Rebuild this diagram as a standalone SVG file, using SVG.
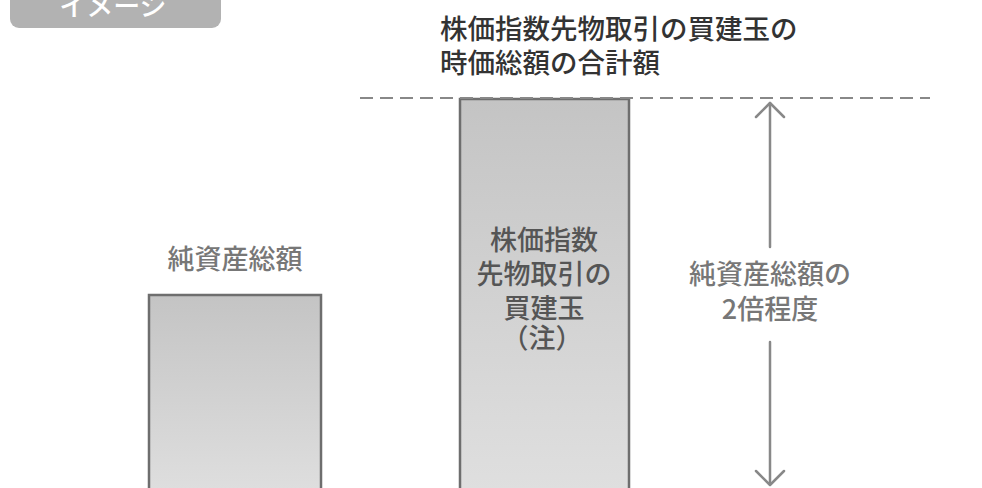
<svg xmlns="http://www.w3.org/2000/svg" width="982" height="488" viewBox="0 0 982 488">
<style>
text{font-family:"Noto Sans CJK JP","Noto Sans CJK SC",sans-serif;font-weight:500;}
.title{font-size:27.5px;fill:#333;}
.lbl{font-size:27px;fill:#777;text-anchor:middle;}
.bartxt{font-size:27px;fill:#555;text-anchor:middle;}
.bar{stroke:#6e6e6e;stroke-width:2.5;fill:url(#g);}
.arr{stroke:#888;stroke-width:2.5;fill:none;stroke-linecap:round;stroke-linejoin:round;}
</style>
<defs>
<linearGradient id="g" x1="0" y1="0" x2="0" y2="1">
<stop offset="0" stop-color="#c4c4c4"/>
<stop offset="1" stop-color="#e0e0e0"/>
</linearGradient>
</defs>
<rect width="982" height="488" fill="#fff"/>
<g id="badge">
<rect x="10" y="-20" width="211" height="48" rx="9" fill="#b2b2b2"/>
<text x="113" y="16" font-size="27" fill="#fff" text-anchor="middle">イメージ</text>
</g>
<g id="top-label">
<text class="title" x="440" y="39">株価指数先物取引の買建玉の</text>
<text class="title" x="440" y="73">時価総額の合計額</text>
</g>
<g id="net-assets">
<text class="lbl" x="235" y="269">純資産総額</text>
<rect class="bar" x="149" y="295" width="172" height="210"/>
</g>
<g id="futures">
<rect class="bar" x="460" y="99" width="169" height="406"/>
<text class="bartxt" x="544" y="250">株価指数</text>
<text class="bartxt" x="544" y="284">先物取引の</text>
<text class="bartxt" x="544" y="318">買建玉</text>
<text class="bartxt" x="542" y="348" font-size="19">（注）</text>
</g>
<g id="ratio-label">
<text class="lbl" x="770" y="284">純資産総額の</text>
<text class="lbl" x="770" y="319">2倍程度</text>
</g>
<g id="connectors">
<line x1="360" y1="98" x2="930" y2="98" stroke="#888" stroke-width="2" stroke-dasharray="13 7"/>
<line class="arr" x1="770" y1="103" x2="770" y2="247"/>
<line class="arr" x1="770" y1="342" x2="770" y2="484"/>
<polyline class="arr" points="756,117 770,103 784,117"/>
<polyline class="arr" points="756,471 770,485 784,471"/>
</g>
</svg>
